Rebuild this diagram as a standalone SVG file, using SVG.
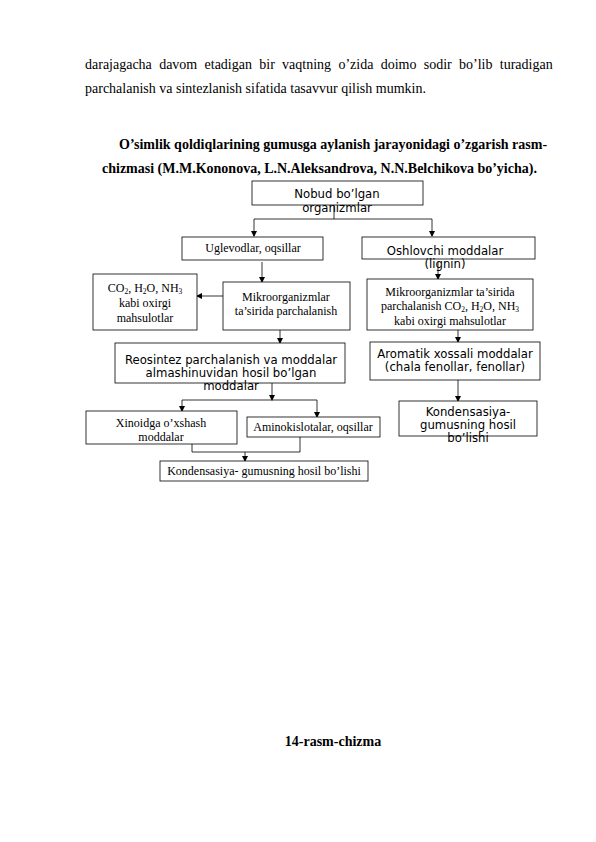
<svg xmlns="http://www.w3.org/2000/svg" width="596" height="842" viewBox="0 0 596 842">
<style>
.p{font-family:"Liberation Serif",serif;font-size:14px;fill:#000}
.b{font-family:"Liberation Serif",serif;font-size:14px;font-weight:bold;fill:#000}
.s{font-family:"Liberation Serif",serif;font-size:12px;fill:#000}
.d{font-family:"DejaVu Sans",sans-serif;font-size:11.7px;fill:#000}
.box{fill:#fff;stroke:#000;stroke-width:0.8}
.ln{fill:none;stroke:#000;stroke-width:0.8}
</style>
<defs>
<marker id="ar" markerWidth="6" markerHeight="6" refX="5" refY="3" orient="auto" markerUnits="userSpaceOnUse">
<path d="M0,0 L6,3 L0,6 z" fill="#000"/>
</marker>
</defs>
<text class="p" x="85" y="69" word-spacing="3.8">darajagacha davom etadigan bir vaqtning o’zida doimo sodir bo’lib turadigan</text>
<text class="p" x="85" y="93">parchalanish va sintezlanish sifatida tasavvur qilish mumkin.</text>
<text class="b" x="119" y="149">O’simlik qoldiqlarining gumusga aylanish jarayonidagi o’zgarish rasm-</text>
<text class="b" x="102" y="173">chizmasi (M.M.Kononova, L.N.Aleksandrova, N.N.Belchikova bo’yicha).</text>

<g id="connectors">
<path class="ln" d="M334,205 V219 M254,219 H432"/>
<path class="ln" d="M254,219 V236" marker-end="url(#ar)"/>
<path class="ln" d="M432,219 V236" marker-end="url(#ar)"/>
<path class="ln" d="M262,262 V282" marker-end="url(#ar)"/>
<path class="ln" d="M438,262 V279" marker-end="url(#ar)"/>
<path class="ln" d="M223,296 H197" marker-end="url(#ar)"/>
<path class="ln" d="M280,330 V343" marker-end="url(#ar)"/>
<path class="ln" d="M458,330 V342" marker-end="url(#ar)"/>
<path class="ln" d="M272,383 V400" marker-end="url(#ar)"/>
<path class="ln" d="M182,400 H317"/>
<path class="ln" d="M182,400 V411" marker-end="url(#ar)"/>
<path class="ln" d="M317,400 V417" marker-end="url(#ar)"/>
<path class="ln" d="M458,380 V401" marker-end="url(#ar)"/>
<path class="ln" d="M192,444 V452 H300 V437"/>
<path class="ln" d="M245,452 V461" marker-end="url(#ar)"/>
</g>

<g id="n1">
<rect class="box" x="252" y="181" width="171" height="24"/>
<text class="d" x="337" y="198" text-anchor="middle">Nobud bo’lgan</text>
<text class="d" x="337" y="212" text-anchor="middle">organizmlar</text>
</g>
<g id="n2">
<rect class="box" x="182" y="237" width="141" height="23"/>
<text class="s" x="253" y="252" text-anchor="middle">Uglevodlar, oqsillar</text>
</g>
<g id="n3">
<rect class="box" x="362" y="237" width="173" height="22"/>
<text class="d" x="445" y="255" text-anchor="middle" font-size="12.5">Oshlovchi moddalar</text>
<text class="d" x="445" y="268" text-anchor="middle" font-size="12.5">(lignin)</text>
</g>
<g id="n4">
<rect class="box" x="93" y="274" width="104" height="56"/>
<text class="s" x="145" y="292" text-anchor="middle">CO<tspan font-size="7.5" dy="2">2</tspan><tspan dy="-2">, H</tspan><tspan font-size="7.5" dy="2">2</tspan><tspan dy="-2">O, NH</tspan><tspan font-size="7.5" dy="2">3</tspan></text>
<text class="s" x="145" y="307" text-anchor="middle">kabi oxirgi</text>
<text class="s" x="145" y="322" text-anchor="middle">mahsulotlar</text>
</g>
<g id="n5">
<rect class="box" x="223" y="282" width="127" height="48"/>
<text class="s" x="286" y="301" text-anchor="middle">Mikroorganizmlar</text>
<text class="s" x="286" y="315" text-anchor="middle">ta’sirida parchalanish</text>
</g>
<g id="n6">
<rect class="box" x="367" y="279" width="166" height="51"/>
<text class="s" x="450" y="296" text-anchor="middle">Mikroorganizmlar ta’sirida</text>
<text class="s" x="450" y="310" text-anchor="middle">parchalanish CO<tspan font-size="7.5" dy="2">2</tspan><tspan dy="-2">, H</tspan><tspan font-size="7.5" dy="2">2</tspan><tspan dy="-2">O, NH</tspan><tspan font-size="7.5" dy="2">3</tspan></text>
<text class="s" x="450" y="325" text-anchor="middle">kabi oxirgi mahsulotlar</text>
</g>
<g id="n7">
<rect class="box" x="115" y="343" width="230" height="40"/>
<text class="d" x="231" y="364" text-anchor="middle" font-size="13">Reosintez parchalanish va moddalar</text>
<text class="d" x="231" y="377" text-anchor="middle" font-size="13">almashinuvidan hosil bo’lgan</text>
<text class="d" x="231" y="390" text-anchor="middle" font-size="13">moddalar</text>
</g>
<g id="n8">
<rect class="box" x="370" y="342" width="170" height="38"/>
<text class="d" x="455" y="358" text-anchor="middle" font-size="10.7">Aromatik xossali moddalar</text>
<text class="d" x="455" y="371" text-anchor="middle" font-size="10.7">(chala fenollar, fenollar)</text>
</g>
<g id="n9">
<rect class="box" x="86" y="411" width="151" height="33"/>
<text class="s" x="161" y="427" text-anchor="middle">Xinoidga o’xshash</text>
<text class="s" x="161" y="441" text-anchor="middle">moddalar</text>
</g>
<g id="n10">
<rect class="box" x="247" y="417" width="133" height="20"/>
<text class="s" x="313" y="431" text-anchor="middle">Aminokislotalar, oqsillar</text>
</g>
<g id="n11">
<rect class="box" x="399" y="401" width="138" height="35"/>
<text class="d" x="468" y="416" text-anchor="middle" font-size="10.5">Kondensasiya-</text>
<text class="d" x="468" y="429" text-anchor="middle" font-size="10.5">gumusning hosil</text>
<text class="d" x="468" y="442" text-anchor="middle" font-size="10.5">bo’lishi</text>
</g>
<g id="n12">
<rect class="box" x="160" y="461" width="208" height="20"/>
<text class="s" x="264" y="475" text-anchor="middle">Kondensasiya- gumusning hosil bo’lishi</text>
</g>
<text class="b" x="333" y="746" text-anchor="middle">14-rasm-chizma</text>
</svg>
